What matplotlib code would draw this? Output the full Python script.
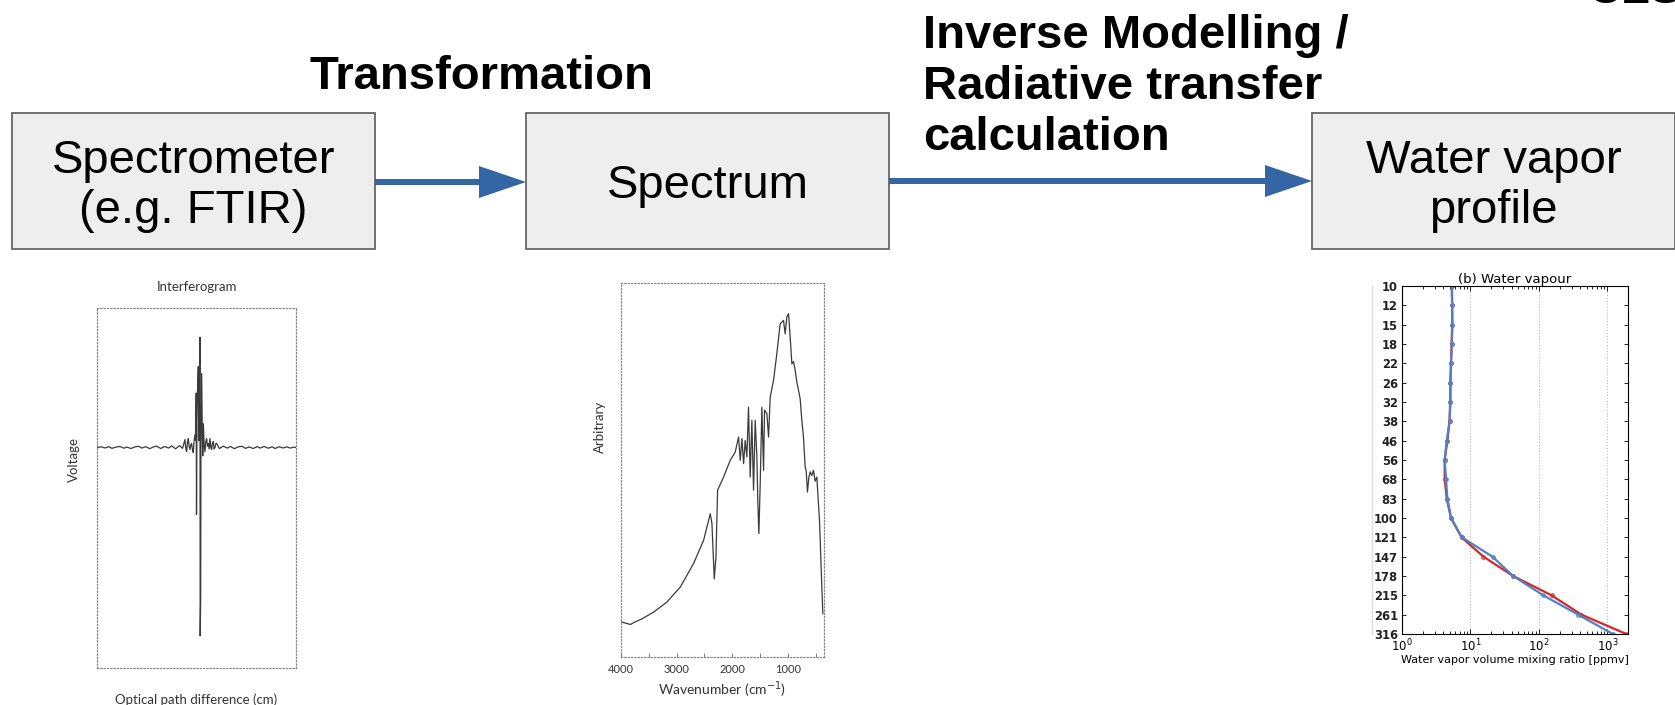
import numpy as np
import matplotlib.pyplot as plt
from matplotlib.patches import Rectangle, FancyArrow
from matplotlib.ticker import FixedLocator, NullLocator

# --- diagram text
box_labels = ["Spectrometer\n(e.g. FTIR)", "Spectrum", "Water vapor\nprofile"]
step_labels = ["Transformation", "Inverse Modelling /\nRadiative transfer\ncalculation"]
corner_label = "CLS"

# --- interferogram (optical path difference, voltage)
opd = [-1.00, -0.96, -0.92, -0.88, -0.85, -0.81, -0.77, -0.73, -0.70, -0.66,
       -0.62, -0.58, -0.55, -0.51, -0.47, -0.43, -0.40, -0.36, -0.32, -0.28,
       -0.25, -0.21, -0.17, -0.14,
       -0.116, -0.107, -0.099, -0.090, -0.082, -0.074, -0.066, -0.057, -0.049, -0.040,
       -0.032, -0.024, -0.015, -0.008, -0.003, 0.000, 0.005, 0.010, 0.018, 0.024,
       0.030, 0.035, 0.037, 0.042, 0.045, 0.052, 0.058, 0.063, 0.069, 0.077,
       0.085, 0.093, 0.102, 0.110, 0.119, 0.127, 0.136, 0.144, 0.152, 0.160,
       0.169, 0.177, 0.186, 0.195, 0.203,
       0.23, 0.27, 0.31, 0.34, 0.38, 0.42, 0.46, 0.49, 0.53, 0.57,
       0.61, 0.64, 0.68, 0.72, 0.76, 0.79, 0.83, 0.87, 0.91, 0.94, 0.98, 1.00]
volt = [0.000, 0.005, -0.003, 0.006, -0.006, 0.003, 0.008, -0.005, 0.004, -0.007,
        0.004, 0.009, -0.004, 0.006, -0.008, 0.005, 0.010, -0.007, 0.008, -0.004,
        0.012, -0.009, 0.014, -0.006,
        0.057, -0.010, -0.029, 0.040, 0.065, 0.010, -0.014, 0.020, 0.029, -0.020,
        -0.036, 0.050, 0.093, 0.050, 0.390, -0.480, 0.200, 0.400, 0.580, 0.050,
        0.400, 0.790, -1.350, -1.080, 0.100, 0.530, 0.100, -0.060, 0.170, 0.020,
        -0.030, 0.040, 0.065, 0.010, 0.029, -0.010, 0.065, 0.000, -0.014, 0.030,
        0.043, -0.010, 0.000, 0.030, 0.029,
        -0.007, 0.010, -0.004, 0.008, -0.008, 0.005, 0.009, -0.006, 0.004, -0.007,
        0.007, -0.004, 0.008, -0.005, 0.005, -0.007, 0.006, -0.003, 0.005, -0.004, 0.003, 0.000]

# --- spectrum (wavenumber cm-1, arbitrary)
wavenumber = [4000, 3832, 3743, 3623, 3413, 3174, 2934, 2695, 2515, 2395,
              2365, 2323, 2293, 2263, 2156, 2036, 1946, 1886, 1856, 1826,
              1796, 1767, 1737, 1707, 1677, 1647, 1617, 1587, 1557, 1539,
              1521, 1497, 1467, 1437, 1419, 1377, 1347, 1317, 1257, 1198,
              1138, 1078, 1048, 1018, 988, 958, 928, 898, 868, 838, 808, 778, 749,
              719, 689, 671, 647, 623, 599, 569, 539, 509, 479, 431, 389, 371]
radiance = [0.094, 0.087, 0.094, 0.102, 0.120, 0.147, 0.187, 0.250, 0.312, 0.383,
            0.357, 0.209, 0.267, 0.446, 0.481, 0.526, 0.548, 0.588, 0.526, 0.584,
            0.517, 0.579, 0.535, 0.668, 0.481, 0.633, 0.446, 0.633, 0.535, 0.410,
            0.330, 0.463, 0.668, 0.499, 0.660, 0.651, 0.588, 0.695, 0.740, 0.811,
            0.891, 0.900, 0.864, 0.909, 0.918, 0.856, 0.784, 0.790, 0.766, 0.735, 0.713, 0.690, 0.633,
            0.588, 0.508, 0.499, 0.441, 0.480, 0.495, 0.485, 0.499, 0.470, 0.481, 0.365, 0.187, 0.116]
spec_ticks = [4000, 3000, 2000, 1000]

# --- water vapour profile (pressure hPa, ppmv)
p_levels = [10.0, 12.1, 14.7, 17.8, 21.5, 26.1, 31.6, 38.3, 46.4, 56.2,
            68.1, 82.5, 100.0, 121.2, 146.8, 177.8, 215.4, 261.0, 316.2]
p_labels = ["10", "12", "15", "18", "22", "26", "32", "38", "46", "56",
            "68", "83", "100", "121", "147", "178", "215", "261", "316"]
wv_blue = [5.35, 5.4, 5.45, 5.35, 5.2, 5.1, 5.1, 4.95, 4.5, 4.2,
           4.4, 4.6, 5.2, 7.5, 21.0, 42.0, 116.0, 374.0, 1200.0]
wv_red = [5.35, 5.4, 5.4, 5.3, 5.2, 5.1, 5.05, 4.95, 4.6, 4.2,
          4.2, 4.5, 5.2, 7.4, 15.5, 42.0, 153.0, 418.0, 1890.0]

W, H = 1675, 705
fig = plt.figure(figsize=(W / 100, H / 100), dpi=100)


def px_axes(x0, y0, x1, y1):
    # axes placed with pixel coordinates measured from the top left
    return fig.add_axes([x0 / W, 1 - y1 / H, (x1 - x0) / W, (y1 - y0) / H])


# overlay for the flow diagram, 1 unit = 1 pixel
ax = fig.add_axes([0, 0, 1, 1])
ax.set_xlim(0, W)
ax.set_ylim(H, 0)
ax.axis("off")

box_font = dict(family="Liberation Sans", fontsize=34)
boxes = [(12, 113), (526, 113), (1312, 113)]
for (bx, by), label in zip(boxes, box_labels):
    ax.add_patch(Rectangle((bx, by), 363, 136, facecolor="#eeeeee",
                           edgecolor="#666666", lw=1.3))
    ax.text(bx + 181.5, by + 73, label, ha="center", va="center",
            linespacing=1.17, **box_font)

blue = "#3465a4"
for x0, x1, y in [(375, 526, 182), (889, 1312, 181)]:
    ax.add_patch(FancyArrow(x0, y, x1 - x0, 0, width=6, head_width=32,
                            head_length=47, length_includes_head=True,
                            color=blue, lw=0))

bold_font = dict(family="Liberation Sans", fontsize=34, fontweight="bold")
ax.text(481, 89, step_labels[0], ha="center", va="baseline", **bold_font)
for line, yb in zip(step_labels[1].split("\n"), [48, 99, 150]):
    ax.text(923, yb, line, ha="left", va="baseline", **bold_font)
ax.text(1587, 3, corner_label, ha="left", va="baseline", **bold_font)

# faint line left of the profile labels
ax.plot([1372, 1372], [286, 634], color="#dddddd", lw=1)

# --- interferogram
ax1 = px_axes(97, 308, 296, 668)
ax1.plot(opd, volt, color="#3a3a3a", lw=0.9)
ax1.set_xlim(-1, 1)
ax1.set_ylim(-1.58, 1.0)
ax1.set_xticks([])
ax1.set_yticks([])
for s in ax1.spines.values():
    s.set_linestyle(":")
    s.set_color("#888888")
    s.set_linewidth(0.9)
ax1.set_title("Interferogram", family="Lato", fontsize=9.5, color="#333333", pad=12)
ax1.set_ylabel("Voltage", family="Lato", fontsize=9.5, color="#333333")
ax1.yaxis.set_label_coords(-0.085, 0.58)
ax1.set_xlabel("Optical path difference (cm)", family="Lato", fontsize=9.5,
               color="#333333", labelpad=18)

# --- spectrum
ax2 = px_axes(621, 283, 824, 657)
ax2.plot(wavenumber, radiance, color="#3a3a3a", lw=0.9)
ax2.set_xlim(4000, 350)
ax2.set_ylim(0, 1)
ax2.set_yticks([])
ax2.set_xticks(spec_ticks)
ax2.set_xticklabels([str(t) for t in spec_ticks], family="Lato", fontsize=8,
                    color="#333333")
ax2.xaxis.set_minor_locator(FixedLocator([3500, 2500, 1500, 500]))
ax2.tick_params(axis="x", which="both", direction="in", length=3, width=0.6,
                color="#666666", pad=5)
for s in ax2.spines.values():
    s.set_linestyle(":")
    s.set_color("#888888")
    s.set_linewidth(0.9)
ax2.set_ylabel("Arbitrary", family="Lato", fontsize=9.5, color="#333333")
ax2.yaxis.set_label_coords(-0.075, 0.615)
ax2.set_xlabel("Wavenumber (cm$^{-1}$)", family="Lato", fontsize=10,
               color="#333333", labelpad=3)

# --- water vapour profile
ax3 = px_axes(1402, 286, 1628, 634)
ax3.plot(wv_red, p_levels, color="#d62728", lw=1.6, marker="o", ms=2.5,
         mfc="none", mew=0.8)
ax3.plot(wv_blue, p_levels, color="#4f81c7", lw=1.6, marker="o", ms=2.5,
         mfc="none", mew=0.8)
ax3.set_xscale("log")
ax3.set_yscale("log")
ax3.set_xlim(1, 2000)
ax3.set_ylim(316.2, 10)
ax3.yaxis.set_major_locator(FixedLocator(p_levels))
ax3.yaxis.set_minor_locator(NullLocator())
ax3.set_yticklabels(p_labels, fontsize=8.3, fontweight="bold", color="#222222")
ax3.tick_params(axis="x", labelsize=8.5, pad=3)
ax3.tick_params(which="both", direction="in", top=True, right=True, width=0.6)
ax3.tick_params(axis="y", length=3, pad=3)
ax3.grid(True, axis="x", which="major", ls=":", color="#bbbbbb", lw=0.8)
ax3.set_title("(b) Water vapour", fontsize=9.5, pad=2)
ax3.set_xlabel("Water vapor volume mixing ratio [ppmv]", fontsize=8, labelpad=0)
for s in ax3.spines.values():
    s.set_linewidth(0.8)

fig.savefig("out.png", dpi=100)
